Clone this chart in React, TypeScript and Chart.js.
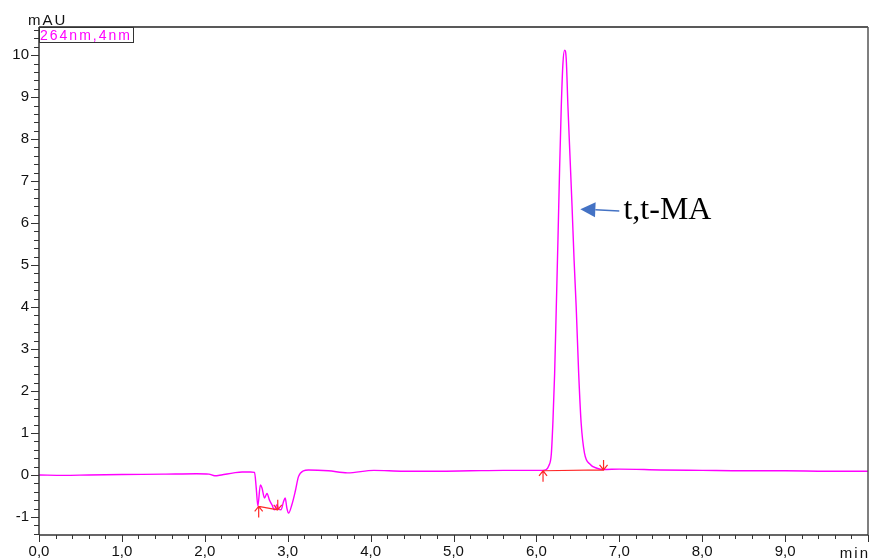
import React, { useEffect, useRef } from 'react';
import { Chart, registerables } from 'chart.js';

Chart.register(...registerables);

// Retention time (min)
const times = [
  0.0, 0.3, 0.6, 1.0, 1.5, 1.9, 2.05, 2.12, 2.2, 2.35, 2.45, 2.55, 2.6, 2.62, 2.64,
  2.67, 2.69, 2.72, 2.75, 2.78, 2.81, 2.84, 2.87, 2.89, 2.92, 2.95, 2.97, 2.99, 3.01,
  3.05, 3.09, 3.13, 3.19, 3.25, 3.49, 3.72, 4.04, 4.4, 4.8, 5.2, 5.6, 5.9, 6.08, 6.11,
  6.15, 6.18, 6.2, 6.22, 6.24, 6.26, 6.28, 6.3, 6.32, 6.34, 6.36, 6.38, 6.405, 6.43,
  6.455, 6.48, 6.51, 6.54, 6.58, 6.65, 6.73, 6.81, 7.0, 7.5, 8.0, 8.5, 9.0, 9.5, 10.0,
];
// Absorbance (mAU)
const signal = [
  0.0, -0.01, 0.0, 0.01, 0.02, 0.03, 0.02, -0.02, 0.0, 0.05, 0.07, 0.07, 0.06, -0.3, -0.74,
  -0.24, -0.31, -0.55, -0.44, -0.6, -0.71, -0.83, -0.71, -0.81, -0.83, -0.63, -0.55, -0.79, -0.91,
  -0.71, -0.4, -0.04, 0.1, 0.12, 0.1, 0.05, 0.11, 0.09, 0.09, 0.1, 0.11, 0.11, 0.11, 0.12,
  0.22, 0.5, 1.3, 2.42, 4.0, 5.6, 7.3, 8.77, 9.8, 10.12, 9.9, 8.8, 7.6, 6.4,
  5.1, 4.0, 2.42, 1.23, 0.52, 0.25, 0.16, 0.13, 0.14, 0.12, 0.11, 0.1, 0.1, 0.09, 0.09,
];

// Integration events (start / end of peaks)
const integStartT = [2.65, 6.08];
const integStartY = [-0.75, 0.1];
const integEndT = [2.88, 6.81];
const integEndY = [-0.83, 0.12];

// Annotation
const annotationLabel = 't,t-MA';
const annotationTipT = 6.53;
const annotationTipY = 6.33;
const annotationTailT = 7.0;
const annotationTailY = 6.29;
const annotationTextT = 7.05;
const annotationTextY = 6.3;

const channelLabel = '264nm,4nm';
const yUnit = 'mAU';
const xUnit = 'min';

const xMin = 0;
const xMax = 10;
const yMin = -1.43;
const yMax = 10.67;

export default function App() {
  const ref = useRef<HTMLCanvasElement>(null);

  useEffect(() => {
    const canvas = ref.current!;
    const overlay = {
      id: 'overlay',
      afterDraw(chart: any) {
        const ctx: CanvasRenderingContext2D = chart.ctx;
        const area = chart.chartArea;
        const xs = chart.scales.x;
        const ys = chart.scales.y;
        ctx.save();

        // minor/major ticks
        ctx.strokeStyle = '#333';
        ctx.lineWidth = 1;
        ctx.beginPath();
        for (let k = Math.ceil(yMin * 5); k <= Math.floor(yMax * 5); k++) {
          const py = Math.round(ys.getPixelForValue(k / 5)) + 0.5;
          const len = k % 5 === 0 ? 8 : 5;
          ctx.moveTo(area.left - len, py);
          ctx.lineTo(area.left, py);
        }
        for (let k = xMin * 5; k <= xMax * 5; k++) {
          const px = Math.round(xs.getPixelForValue(k / 5)) + 0.5;
          const len = k % 5 === 0 ? 7 : 4;
          ctx.moveTo(px, area.bottom);
          ctx.lineTo(px, area.bottom + len);
        }
        ctx.stroke();

        // frame
        ctx.lineWidth = 1.5;
        ctx.strokeStyle = '#222';
        ctx.beginPath();
        ctx.moveTo(area.left, area.top);
        ctx.lineTo(area.right, area.top);
        ctx.stroke();
        ctx.strokeStyle = '#555';
        ctx.beginPath();
        ctx.moveTo(area.right, area.top);
        ctx.lineTo(area.right, area.bottom);
        ctx.stroke();
        ctx.strokeStyle = '#333';
        ctx.beginPath();
        ctx.moveTo(area.left, area.bottom);
        ctx.lineTo(area.right, area.bottom);
        ctx.moveTo(area.left, area.top);
        ctx.lineTo(area.left, area.bottom);
        ctx.stroke();

        // unit labels
        ctx.fillStyle = '#111';
        ctx.font = '15px Arial, "Liberation Sans", sans-serif';
        (ctx as any).letterSpacing = '2px';
        ctx.textAlign = 'left';
        ctx.textBaseline = 'alphabetic';
        ctx.fillText(yUnit, area.left - 11, area.top - 2);
        ctx.textAlign = 'right';
        ctx.fillText(xUnit, area.right + 2, chart.height - 2);

        // channel box
        ctx.font = '14px Arial, "Liberation Sans", sans-serif';
        (ctx as any).letterSpacing = '2px';
        ctx.textAlign = 'left';
        ctx.fillStyle = '#ff00ff';
        ctx.fillText(channelLabel, area.left + 1, area.top + 13);
        (ctx as any).letterSpacing = '0px';
        ctx.strokeStyle = '#333';
        ctx.lineWidth = 1;
        ctx.strokeRect(area.left + 0.5, area.top + 0.5, 94, 15);

        // integration markers
        ctx.strokeStyle = 'rgb(255,40,40)';
        ctx.lineWidth = 1.2;
        for (let i = 0; i < integStartT.length; i++) {
          const sx = xs.getPixelForValue(integStartT[i]);
          const sy = ys.getPixelForValue(integStartY[i]);
          const ex = xs.getPixelForValue(integEndT[i]);
          const ey = ys.getPixelForValue(integEndY[i]);
          ctx.beginPath();
          ctx.moveTo(sx, sy);
          ctx.lineTo(ex, ey);
          // start: up arrow
          ctx.moveTo(sx, sy + 11);
          ctx.lineTo(sx, sy);
          ctx.moveTo(sx - 4, sy + 5);
          ctx.lineTo(sx, sy);
          ctx.lineTo(sx + 4, sy + 5);
          // end: down arrow
          ctx.moveTo(ex, ey - 10);
          ctx.lineTo(ex, ey);
          ctx.moveTo(ex - 4, ey - 5);
          ctx.lineTo(ex, ey);
          ctx.lineTo(ex + 4, ey - 5);
          ctx.stroke();
        }

        // annotation arrow
        const tipX = xs.getPixelForValue(annotationTipT);
        const tipY = ys.getPixelForValue(annotationTipY);
        const tailX = xs.getPixelForValue(annotationTailT);
        const tailY = ys.getPixelForValue(annotationTailY);
        const ang = Math.atan2(tipY - tailY, tipX - tailX);
        const headLen = 15;
        const headHalf = 7.5;
        const bx = tipX - headLen * Math.cos(ang);
        const by = tipY - headLen * Math.sin(ang);
        ctx.strokeStyle = '#4472C4';
        ctx.fillStyle = '#4472C4';
        ctx.lineWidth = 1.5;
        ctx.beginPath();
        ctx.moveTo(tailX, tailY);
        ctx.lineTo(bx, by);
        ctx.stroke();
        ctx.beginPath();
        ctx.moveTo(tipX, tipY);
        ctx.lineTo(bx + headHalf * Math.sin(ang), by - headHalf * Math.cos(ang));
        ctx.lineTo(bx - headHalf * Math.sin(ang), by + headHalf * Math.cos(ang));
        ctx.closePath();
        ctx.fill();

        ctx.fillStyle = '#000';
        ctx.font = '32px "Liberation Serif", "Times New Roman", serif';
        ctx.textAlign = 'left';
        ctx.textBaseline = 'middle';
        ctx.fillText(annotationLabel, xs.getPixelForValue(annotationTextT), ys.getPixelForValue(annotationTextY));

        ctx.restore();
      },
    };

    const chart = new Chart(canvas, {
      type: 'line',
      data: {
        datasets: [
          {
            data: times.map((t, i) => ({ x: t, y: signal[i] })),
            borderColor: '#ff00ff',
            borderWidth: 1.4,
            pointRadius: 0,
            cubicInterpolationMode: 'monotone',
            fill: false,
          },
        ],
      },
      options: {
        responsive: false,
        devicePixelRatio: 1,
        animation: false,
        layout: { padding: { top: 27, right: 2, left: 0, bottom: 0 } },
        plugins: { legend: { display: false }, tooltip: { enabled: false }, title: { display: false } },
        scales: {
          x: {
            type: 'linear',
            min: xMin,
            max: xMax,
            afterFit: (s: any) => { s.height = 25; },
            border: { display: false },
            grid: { display: true, drawOnChartArea: false, drawTicks: false, color: 'rgba(0,0,0,0)' },
            ticks: {
              stepSize: 1,
              autoSkip: false,
              maxRotation: 0,
              includeBounds: false,
              padding: 8,
              color: '#111',
              font: { family: 'Arial, "Liberation Sans", sans-serif', size: 15 },
              callback: (v: any) => (Number(v) >= xMax ? '' : Number(v).toFixed(1).replace('.', ',')),
            },
          },
          y: {
            type: 'linear',
            min: yMin,
            max: yMax,
            afterFit: (s: any) => { s.width = 39; },
            border: { display: false },
            grid: { display: true, drawOnChartArea: false, drawTicks: false, color: 'rgba(0,0,0,0)' },
            ticks: {
              stepSize: 1,
              includeBounds: false,
              padding: 10,
              color: '#111',
              font: { family: 'Arial, "Liberation Sans", sans-serif', size: 15 },
              callback: (v: any) => String(Math.round(Number(v))),
            },
          },
        },
      },
      plugins: [overlay],
    } as any);
    return () => chart.destroy();
  }, []);

  return (
    <div style={{ position: 'fixed', left: 0, top: 0, width: 876, height: 560, background: '#fff' }}>
      <canvas ref={ref} width={876} height={560} style={{ width: 876, height: 560, display: 'block' }} />
    </div>
  );
}
